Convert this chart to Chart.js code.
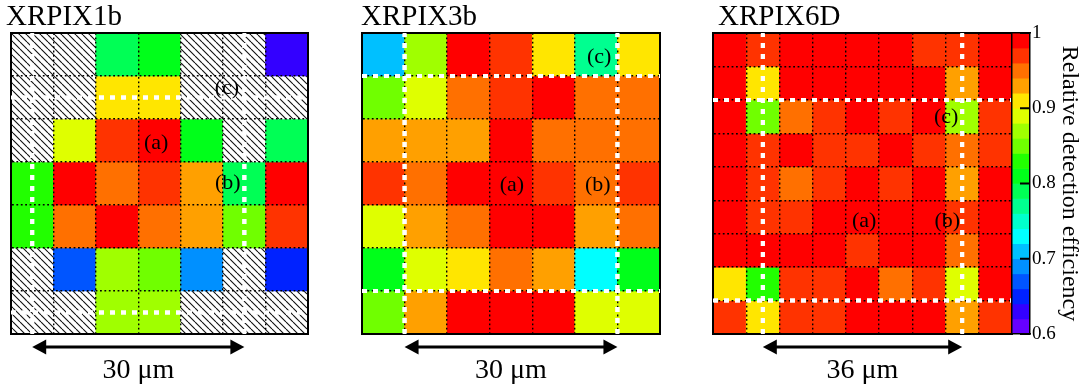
<!DOCTYPE html>
<html><head><meta charset="utf-8">
<script src="https://cdn.jsdelivr.net/npm/chart.js@4.4.1/dist/chart.umd.min.js"></script>
<style>
html,body{margin:0;padding:0;background:#fff;width:1086px;height:390px;overflow:hidden;}
canvas{position:absolute;top:0;}
.ttl{position:absolute;top:1px;font-family:'Liberation Serif','Times New Roman',serif;font-size:29px;line-height:29px;color:#000;white-space:nowrap;}
</style></head><body>
<script>
// ---------------- data ----------------
const panelTitles = ['XRPIX1b', 'XRPIX3b', 'XRPIX6D'];
const scaleBarLabels = ['30 μm', '30 μm', '36 μm'];

// relative detection efficiency per sub-pixel cell, rows listed top to bottom (null = no data, hatched)
const eff1b = [
  [null, null, 0.79, 0.81, null, null, 0.63],
  [null, null, 0.91, 0.91, null, null, null],
  [null, 0.89, 0.97, 0.99, 0.81, null, 0.79],
  [0.83, 0.99, 0.95, 0.97, 0.93, 0.79, 0.99],
  [0.83, 0.95, 0.99, 0.95, 0.93, 0.85, 0.97],
  [null, 0.67, 0.87, 0.85, 0.69, null, 0.65],
  [null, null, 0.87, 0.87, null, null, null]
];
const eff3b = [
  [0.71, 0.87, 0.99, 0.97, 0.91, 0.77, 0.91],
  [0.85, 0.89, 0.95, 0.97, 0.99, 0.95, 0.95],
  [0.93, 0.93, 0.93, 0.99, 0.95, 0.95, 0.95],
  [0.97, 0.95, 0.99, 0.99, 0.97, 0.95, 0.97],
  [0.89, 0.93, 0.95, 0.99, 0.99, 0.93, 0.95],
  [0.81, 0.89, 0.91, 0.95, 0.93, 0.73, 0.81],
  [0.85, 0.93, 0.99, 0.99, 0.99, 0.89, 0.89]
];
const eff6D = [
  [0.99, 0.97, 0.99, 0.99, 0.99, 0.99, 0.97, 0.97, 0.99],
  [0.99, 0.91, 0.99, 0.99, 0.99, 0.99, 0.99, 0.93, 0.99],
  [0.99, 0.85, 0.95, 0.97, 0.99, 0.97, 0.99, 0.87, 0.97],
  [0.99, 0.97, 0.99, 0.97, 0.97, 0.99, 0.97, 0.95, 0.97],
  [0.99, 0.97, 0.95, 0.97, 0.99, 0.97, 0.99, 0.93, 0.99],
  [0.99, 0.97, 0.97, 0.99, 0.99, 0.99, 0.99, 0.97, 0.99],
  [0.99, 0.99, 0.99, 0.99, 0.97, 0.99, 0.99, 0.95, 0.99],
  [0.91, 0.83, 0.97, 0.97, 0.99, 0.95, 0.97, 0.89, 0.99],
  [0.97, 0.91, 0.97, 0.97, 0.99, 0.99, 0.99, 0.93, 0.97]
];

// pixel boundaries (white dashed lines), in cell units
const pitchX1b = [0.5, 5.5], pitchY1b = [0.5, 5.5];
const pitchX3b = [1, 6],     pitchY3b = [1, 6];
const pitchX6D = [1.5, 7.5], pitchY6D = [1, 7];

// labelled positions (text, x, y) in cell units
const marks1b = [['(a)', 3.42, 4.44], ['(b)', 5.11, 3.51], ['(c)', 5.09, 5.72]];
const marks3b = [['(a)', 3.52, 3.47], ['(b)', 5.54, 3.47], ['(c)', 5.57, 6.44]];
const marks6D = [['(a)', 4.55, 3.38], ['(b)', 7.05, 3.38], ['(c)', 7.02, 6.49]];

// colour scale (bottom to top)
const levelEdges = [0.60, 0.62, 0.64, 0.66, 0.68, 0.70, 0.72, 0.74, 0.76, 0.78, 0.80,
                    0.82, 0.84, 0.86, 0.88, 0.90, 0.92, 0.94, 0.96, 0.98, 1.00];
const levelColors = ['#6600ff', '#3300ff', '#0022ff', '#0055ff', '#0090ff', '#00c0ff', '#00ffff',
                     '#00ffcc', '#00ff90', '#00ff55', '#00ff1a', '#22ff00', '#70ff00', '#a0ff00',
                     '#dfff00', '#ffe600', '#ffa000', '#ff7000', '#ff3300', '#ff0000'];
const cbTicks = [0.6, 0.7, 0.8, 0.9, 1];
const cbTickLabels = ['0.6', '0.7', '0.8', '0.9', '1'];
const cbTitle = 'Relative detection efficiency';

// ---------------- layout ----------------
const SERIF = "'Liberation Serif','Times New Roman',serif";
const layoutBoxes = [{left: 11, width: 297}, {left: 362, width: 298}, {left: 713, width: 299}];
const titleLefts = [6, 361, 718];
const plotTop = 33, plotBottom = 334, H = 390;

Chart.defaults.font.family = SERIF;
Chart.defaults.color = '#000';
Chart.defaults.animation = false;

function colorFor(v) {
  for (let i = 0; i < levelColors.length; i++) if (v < levelEdges[i + 1]) return levelColors[i];
  return levelColors[levelColors.length - 1];
}
function hatchPattern(ctx) {
  const s = 7;
  const c = document.createElement('canvas'); c.width = c.height = s;
  const g = c.getContext('2d');
  g.fillStyle = '#fff'; g.fillRect(0, 0, s, s);
  g.strokeStyle = '#111'; g.lineWidth = 1.1;
  g.beginPath();
  for (const k of [-s, 0, s]) { g.moveTo(k, 0); g.lineTo(k + s, s); }
  g.stroke();
  return ctx.createPattern(c, 'repeat');
}

function makeCanvas(left, width) {
  const cv = document.createElement('canvas');
  cv.width = width; cv.height = H;
  cv.style.left = left + 'px'; cv.style.width = width + 'px'; cv.style.height = H + 'px';
  document.body.appendChild(cv);
  return cv;
}

function makePanel(idx, values, pitchX, pitchY, marks) {
  const box = layoutBoxes[idx];
  const pad = 12;
  const cv = makeCanvas(box.left - pad, box.width + 2 * pad);
  const ctx = cv.getContext('2d');
  const pattern = hatchPattern(ctx);
  const nRows = values.length, nCols = values[0].length;

  const t = document.createElement('div');
  t.className = 'ttl'; t.style.left = titleLefts[idx] + 'px'; t.textContent = panelTitles[idx];
  document.body.appendChild(t);

  const datasets = [];
  values.forEach((row, r) => {
    const yb = nRows - 1 - r;
    datasets.push({
      type: 'bar',
      data: row.map((v, c) => ({x: c + 0.5, y: [yb, yb + 1], v: v})),
      backgroundColor: (cx) => (cx.raw && cx.raw.v !== null) ? colorFor(cx.raw.v) : pattern,
      borderWidth: 0, grouped: false, barPercentage: 1, categoryPercentage: 1, order: 2
    });
  });
  const lineStyle = {type: 'line', borderColor: '#fff', borderWidth: 4, borderDash: [5, 6],
                     pointRadius: 0, borderCapStyle: 'butt', order: 0, fill: false, clip: false};
  pitchX.forEach(px => datasets.push(Object.assign({data: [{x: px, y: 0}, {x: px, y: nRows}]}, lineStyle)));
  pitchY.forEach(py => datasets.push(Object.assign({data: [{x: 0, y: py}, {x: nCols, y: py}]}, lineStyle)));

  const grid = {color: '#000', lineWidth: 1.4, drawTicks: false, z: 1, offset: false};
  const border = {display: true, color: '#000', width: 2, dash: [1.8, 2.6], z: 2};
  const frame = {display: true, ticks: {display: false}, grid: {display: false, drawTicks: false},
                 border: {display: true, color: '#000', width: 2, z: 2}};

  const overlay = {
    id: 'overlay' + idx,
    afterDraw(chart) {
      const c = chart.ctx, xs = chart.scales.x, ys = chart.scales.y, area = chart.chartArea;
      // bring the white pixel-boundary lines above the dotted cell grid
      chart.data.datasets.forEach((ds, i) => {
        if (ds.type === 'line') {
          const meta = chart.getDatasetMeta(i);
          if (meta.dataset) meta.dataset.draw(c, area);
        }
      });
      c.save();
      c.fillStyle = '#000';
      c.font = '22px ' + SERIF; c.textAlign = 'center'; c.textBaseline = 'middle';
      marks.forEach(m => c.fillText(m[0], xs.getPixelForValue(m[1]), ys.getPixelForValue(m[2])));
      // double arrow spanning one pixel pitch
      const x0 = xs.getPixelForValue(pitchX[0]), x1 = xs.getPixelForValue(pitchX[1]);
      const y = area.bottom + 13, hl = 14, hw = 7.5;
      c.strokeStyle = '#000'; c.lineWidth = 3;
      c.beginPath(); c.moveTo(x0 + hl - 1, y); c.lineTo(x1 - hl + 1, y); c.stroke();
      c.beginPath(); c.moveTo(x0, y); c.lineTo(x0 + hl, y - hw); c.lineTo(x0 + hl, y + hw); c.closePath(); c.fill();
      c.beginPath(); c.moveTo(x1, y); c.lineTo(x1 - hl, y - hw); c.lineTo(x1 - hl, y + hw); c.closePath(); c.fill();
      c.font = '28px ' + SERIF; c.textBaseline = 'alphabetic';
      c.fillText(scaleBarLabels[idx], (x0 + x1) / 2, area.bottom + 44);
      c.restore();
    }
  };

  new Chart(cv, {
    type: 'bar',
    data: {datasets},
    options: {
      responsive: false, animation: false, events: [],
      layout: {padding: {left: pad, right: pad, top: plotTop, bottom: H - plotBottom}},
      plugins: {legend: {display: false}, tooltip: {enabled: false}, title: {display: false}},
      scales: {
        x: {type: 'linear', position: 'bottom', min: 0, max: nCols, offset: false,
            ticks: {display: false, stepSize: 1}, grid: grid, border: border},
        y: {type: 'linear', position: 'left', min: 0, max: nRows,
            ticks: {display: false, stepSize: 1}, grid: grid, border: border},
        xTop: Object.assign({type: 'linear', position: 'top', min: 0, max: nCols}, frame),
        yRight: Object.assign({type: 'linear', position: 'right', min: 0, max: nRows}, frame)
      }
    },
    plugins: [overlay]
  });
}

makePanel(0, eff1b, pitchX1b, pitchY1b, marks1b);
makePanel(1, eff3b, pitchX3b, pitchY3b, marks3b);
makePanel(2, eff6D, pitchX6D, pitchY6D, marks6D);

// ---------------- colour bar ----------------
(function () {
  const left = 1007, barLeft = 1012, barRight = 1030;
  const cv = makeCanvas(left, 1086 - left);
  const frame = {display: true, ticks: {display: false}, grid: {display: false, drawTicks: false},
                 border: {display: true, color: '#000', width: 1.5, z: 2}};
  const tickMarks = {
    id: 'cbTicks',
    afterDraw(chart) {
      const c = chart.ctx, ys = chart.scales.y, area = chart.chartArea;
      c.save(); c.strokeStyle = '#000'; c.lineWidth = 2;
      ys.ticks.forEach(tk => {
        const py = ys.getPixelForValue(tk.value);
        c.beginPath(); c.moveTo(area.right, py); c.lineTo(area.right - 10, py); c.stroke();
      });
      c.restore();
    }
  };
  new Chart(cv, {
    type: 'bar',
    data: {datasets: [{
      data: levelColors.map((col, i) => ({x: 0.5, y: [levelEdges[i], levelEdges[i + 1]]})),
      backgroundColor: levelColors, borderWidth: 0, grouped: false, barPercentage: 1, categoryPercentage: 1
    }]},
    options: {
      responsive: false, animation: false, events: [],
      layout: {padding: {left: barLeft - left, right: 0, top: plotTop, bottom: H - plotBottom}},
      plugins: {legend: {display: false}, tooltip: {enabled: false}},
      scales: {
        x: Object.assign({type: 'linear', position: 'bottom', min: 0, max: 1, offset: false}, frame,
                         {ticks: {display: false, stepSize: 1}, grid: {display: false, drawTicks: false, offset: false}}),
        xTop: Object.assign({type: 'linear', position: 'top', min: 0, max: 1}, frame),
        yLeft: Object.assign({type: 'linear', position: 'left', min: 0.6, max: 1}, frame),
        y: {
          type: 'linear', position: 'right', min: 0.6, max: 1,
          afterBuildTicks: (s) => { s.ticks = cbTicks.map(v => ({value: v})); },
          afterFit: (s) => { s.width = 1086 - barRight; },
          ticks: {display: true, padding: 2, color: '#000', font: {family: SERIF, size: 19},
                  callback: (v, i) => cbTickLabels[i]},
          grid: {display: false, drawOnChartArea: false, drawTicks: false},
          border: {display: true, color: '#000', width: 1.5, z: 2},
          title: {display: true, text: cbTitle, color: '#000', font: {family: SERIF, size: 24},
                  padding: {top: 2, bottom: 2}}
        }
      }
    },
    plugins: [tickMarks]
  });
})();
</script>
</body></html>
